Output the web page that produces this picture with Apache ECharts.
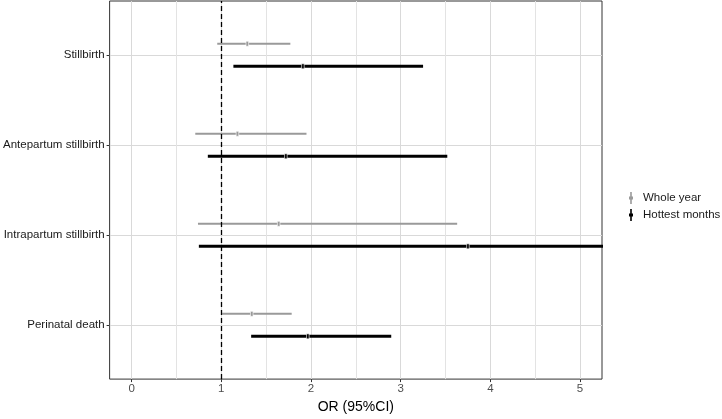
<!DOCTYPE html>
<html>
<head>
<meta charset="utf-8">
<script src="https://cdn.jsdelivr.net/npm/echarts@6/dist/echarts.min.js"></script>
<style>
  html, body { margin: 0; padding: 0; background: #fff; }
  #chart { width: 722px; height: 419px; }
</style>
</head>
<body>
<div id="chart"></div>
<script>
var categories = ['Stillbirth', 'Antepartum stillbirth', 'Intrapartum stillbirth', 'Perinatal death'];
var seriesNames = ['Whole year', 'Hottest months'];

// odds ratios with 95% CI
var wholeMid = [1.29, 1.18, 1.64, 1.34];
var wholeLow = [0.955, 0.71, 0.74, 1.01];
var wholeHigh = [1.77, 1.95, 3.63, 1.785];
var hotMid = [1.91, 1.72, 3.75, 1.965];
var hotLow = [1.135, 0.85, 0.75, 1.333];
var hotHigh = [3.25, 3.52, 18.75, 2.895];

var xTicks = [0, 1, 2, 3, 4, 5];
var xMinor = [0.5, 1.5, 2.5, 3.5, 4.5];
var refLine = 1;

var yPos = [0, 1, 2, 3]; // bottom to top
var font = '"Liberation Sans", Arial, sans-serif';

function rows(low, mid, high) {
    return categories.map(function(c, i) {
        return [low[i], mid[i], high[i], categories.length - 1 - i];
    });
}

function makeRender(offset, width) {
    return function(params, api) {
        var y = api.value(3) + offset;
        var p0 = api.coord([api.value(0), y]);
        var p1 = api.coord([api.value(2), y]);
        var pm = api.coord([api.value(1), y]);
        var color = api.visual('color');
        return {
            type: 'group',
            children: [{
                type: 'line',
                shape: { x1: p0[0], y1: p0[1], x2: p1[0], y2: p1[1] },
                style: { stroke: color, lineWidth: width }
            }, {
                type: 'rect',
                shape: { x: pm[0] - 1.3, y: pm[1] - 2.5, width: 2.6, height: 5 },
                style: { fill: color, stroke: '#fff', lineWidth: 0.6 }
            }]
        };
    };
}

var myChart = echarts.init(document.getElementById('chart'));

var option = {
    animation: false,
    backgroundColor: '#fff',
    grid: {
        left: 108, right: 120, top: 1, bottom: 33,
        show: true, borderColor: '#333', borderWidth: 1
    },
    legend: {
        orient: 'vertical',
        left: 624, top: 187,
        itemWidth: 4, itemHeight: 12, itemGap: 5,
        data: seriesNames,
        icon: 'path://M1.2,0 L2.8,0 L2.8,4.5 L4,4.5 L4,7.5 L2.8,7.5 L2.8,12 L1.2,12 L1.2,7.5 L0,7.5 L0,4.5 L1.2,4.5 Z',
        textStyle: { fontFamily: font, fontSize: 11.5, color: '#1a1a1a', padding: [0, 0, 0, 5] }
    },
    xAxis: [{
        type: 'value',
        min: -0.245, max: 5.245,
        name: 'OR (95%CI)',
        nameLocation: 'middle',
        nameGap: 19,
        nameTextStyle: { fontFamily: font, fontSize: 14, color: '#000' },
        axisLine: { show: false, onZero: false },
        axisTick: { show: true, length: 3, customValues: xTicks, lineStyle: { color: '#333' } },
        axisLabel: { customValues: xTicks, fontFamily: font, fontSize: 11.5, color: '#4d4d4d', margin: 4 },
        splitLine: { show: true, lineStyle: { color: '#d9d9d9', width: 1 } }
    }, {
        type: 'value',
        min: -0.245, max: 5.245,
        position: 'bottom',
        axisLine: { show: false, onZero: false },
        axisTick: { show: false, customValues: xMinor },
        axisLabel: { show: false, customValues: xMinor },
        splitLine: { show: true, lineStyle: { color: '#e3e3e3', width: 1 } }
    }],
    yAxis: {
        type: 'value',
        min: -0.6, max: 3.6,
        axisLine: { show: false, onZero: false },
        axisTick: { show: true, length: 3, customValues: yPos, lineStyle: { color: '#333' } },
        axisLabel: {
            customValues: yPos,
            fontFamily: font, fontSize: 11.5, color: '#1a1a1a', margin: 5,
            formatter: function(v) { return categories[categories.length - 1 - v]; }
        },
        splitLine: { show: true, lineStyle: { color: '#d9d9d9', width: 1 } }
    },
    series: [{
        name: 'Whole year',
        type: 'custom',
        clip: true,
        itemStyle: { color: '#9a9a9a' },
        renderItem: makeRender(0.125, 2),
        encode: { x: [0, 1, 2], y: 3 },
        data: rows(wholeLow, wholeMid, wholeHigh),
        z: 3
    }, {
        name: 'Hottest months',
        type: 'custom',
        clip: true,
        itemStyle: { color: '#000' },
        renderItem: makeRender(-0.125, 3),
        encode: { x: [0, 1, 2], y: 3 },
        data: rows(hotLow, hotMid, hotHigh),
        z: 3
    }, {
        type: 'line',
        data: [],
        silent: true,
        markLine: {
            silent: true,
            symbol: 'none',
            label: { show: false },
            lineStyle: { color: '#000', type: [5, 3], width: 1.3 },
            data: [{ xAxis: refLine }]
        },
        z: 4
    }]
};

myChart.setOption(option);
</script>
</body>
</html>
